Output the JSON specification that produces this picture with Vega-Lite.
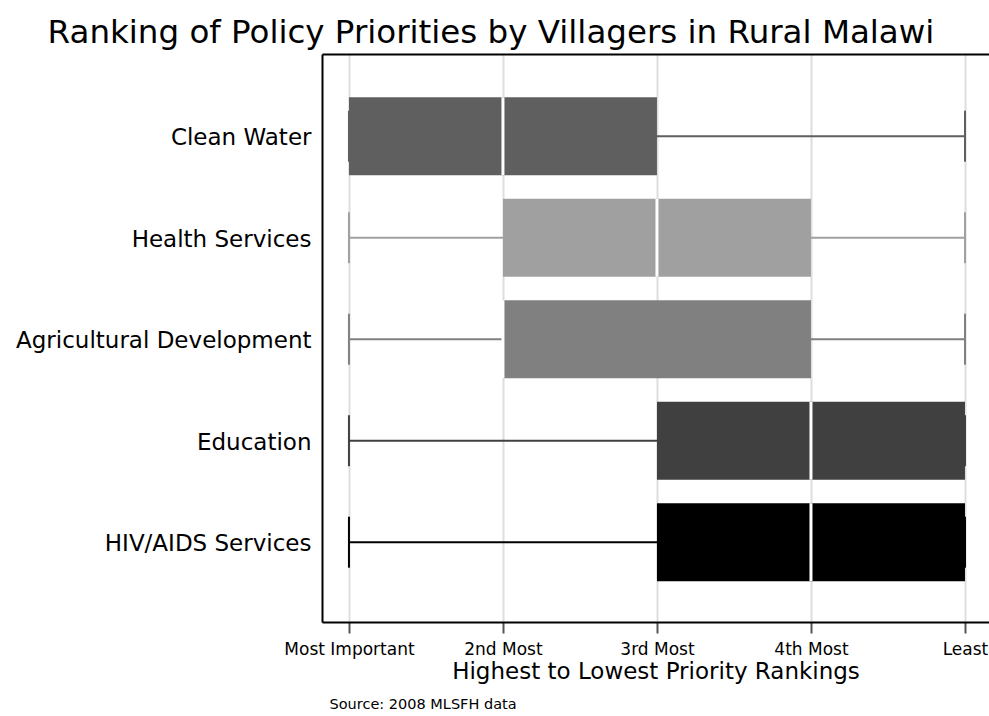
{
  "$schema": "https://vega.github.io/schema/vega-lite/v6.json",
  "width": 667,
  "height": 568,
  "autosize": {"type": "none"},
  "padding": {"left": 322, "top": 54, "right": 0, "bottom": 94},
  "background": "white",
  "title": {
    "text": "Ranking of Policy Priorities by Villagers in Rural Malawi",
    "font": "DejaVu Sans",
    "fontSize": 32.5,
    "fontWeight": "normal",
    "color": "black",
    "anchor": "middle",
    "frame": "group",
    "dx": -164.5,
    "dy": 35,
    "baseline": "alphabetic",
    "offset": 14
  },
  "data": {
    "values": [
      {"name": "Clean Water", "min": 1, "q1": 1, "median": 2, "q3": 3, "max": 5},
      {"name": "Health Services", "min": 1, "q1": 2, "median": 3, "q3": 4, "max": 5},
      {"name": "Agricultural Development", "min": 1, "q1": 2, "median": 2, "q3": 4, "max": 5},
      {"name": "Education", "min": 1, "q1": 3, "median": 4, "q3": 5, "max": 5},
      {"name": "HIV/AIDS Services", "min": 1, "q1": 3, "median": 4, "q3": 5, "max": 5}
    ]
  },
  "encoding": {
    "y": {
      "field": "name",
      "type": "nominal",
      "sort": ["Clean Water", "Health Services", "Agricultural Development", "Education", "HIV/AIDS Services"],
      "scale": {"paddingInner": 0, "paddingOuter": 0.298, "align": 0.52},
      "axis": {
        "title": "Source: 2008 MLSFH data",
        "titleAngle": 0,
        "titleAlign": "left",
        "titleBaseline": "alphabetic",
        "titleX": 7,
        "titleY": 654,
        "titleFont": "DejaVu Sans",
        "titleFontSize": 14.5,
        "titleFontWeight": "normal",
        "titleColor": "black",
        "labelFont": "DejaVu Sans",
        "labelFontSize": 23,
        "labelColor": "black",
        "labelPadding": 11,
        "labelLimit": 400,
        "labelOffset": 2,
        "ticks": false,
        "domain": true,
        "domainColor": "black",
        "domainWidth": 2,
        "grid": false
      }
    },
    "color": {
      "field": "name",
      "type": "nominal",
      "scale": {
        "domain": ["Clean Water", "Health Services", "Agricultural Development", "Education", "HIV/AIDS Services"],
        "range": ["#5f5f5f", "#a0a0a0", "#808080", "#404040", "#000000"]
      },
      "legend": null
    }
  },
  "layer": [
    {
      "layer": [
        {
          "mark": {"type": "rule", "strokeWidth": 2},
          "encoding": {
            "x": {
              "field": "min",
              "type": "quantitative",
              "scale": {"domain": [0.825, 5.156], "nice": false, "zero": false},
              "axis": {
                "title": "Highest to Lowest Priority Rankings",
                "values": [1, 2, 3, 4, 5],
                "labelExpr": "['','Most Important','2nd Most','3rd Most','4th Most','Least'][datum.value]",
                "orient": "bottom"
              }
            },
            "x2": {"field": "max"}
          }
        },
        {
          "mark": {"type": "tick", "size": 51, "thickness": 2, "opacity": 1},
          "encoding": {
            "x": {"field": "min", "type": "quantitative", "axis": {"title": "Highest to Lowest Priority Rankings", "values": [1, 2, 3, 4, 5], "labelExpr": "['','Most Important','2nd Most','3rd Most','4th Most','Least'][datum.value]", "orient": "bottom"}}
          }
        },
        {
          "mark": {"type": "tick", "size": 51, "thickness": 2, "opacity": 1},
          "encoding": {
            "x": {"field": "max", "type": "quantitative", "axis": {"title": "Highest to Lowest Priority Rankings", "values": [1, 2, 3, 4, 5], "labelExpr": "['','Most Important','2nd Most','3rd Most','4th Most','Least'][datum.value]", "orient": "bottom"}}
          }
        },
        {
          "mark": {"type": "bar", "size": 78, "opacity": 1},
          "encoding": {
            "x": {"field": "q1", "type": "quantitative", "axis": {"title": "Highest to Lowest Priority Rankings", "values": [1, 2, 3, 4, 5], "labelExpr": "['','Most Important','2nd Most','3rd Most','4th Most','Least'][datum.value]", "orient": "bottom"}},
            "x2": {"field": "q3"}
          }
        }
      ]
    },
    {
      "mark": {"type": "tick", "size": 78, "thickness": 3, "color": "white", "opacity": 1},
      "encoding": {
        "x": {
          "field": "median",
          "type": "quantitative",
          "axis": {
            "orient": "top",
            "title": null,
            "labels": false,
            "ticks": false,
            "grid": false,
            "domain": true,
            "domainColor": "black",
            "domainWidth": 2,
            "minExtent": 0,
            "maxExtent": 0,
            "offset": 0
          }
        },
        "color": {"value": "white"}
      }
    }
  ],
  "resolve": {"axis": {"x": "independent"}},
  "config": {
    "view": {"stroke": null},
    "font": "DejaVu Sans",
    "axisBottom": {
      "domainColor": "black",
      "domainWidth": 2,
      "grid": true,
      "gridColor": "#dedede",
      "gridWidth": 2,
      "tickColor": "#555555",
      "tickWidth": 2,
      "tickSize": 11,
      "labelFont": "DejaVu Sans",
      "labelFontSize": 17,
      "labelColor": "black",
      "labelPadding": 8,
      "labelOverlap": false,
      "labelFlush": false,
      "titleFont": "DejaVu Sans",
      "titleFontSize": 23,
      "titleFontWeight": "normal",
      "titleColor": "black",
      "titlePadding": 3
    }
  }
}
